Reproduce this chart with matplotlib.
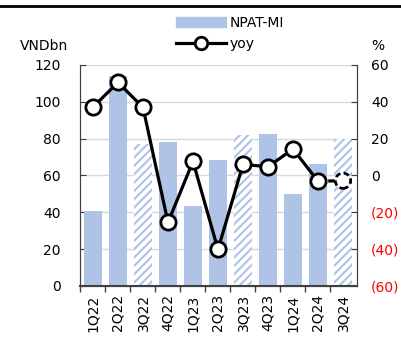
import matplotlib.pyplot as plt
import matplotlib.lines as mlines
import matplotlib.patches as mpatches

plt.rcParams['font.family'] = 'DejaVu Sans'
plt.rcParams['hatch.linewidth'] = 1.5

quarters = ['1Q22', '2Q22', '3Q22', '4Q22', '1Q23', '2Q23', '3Q23', '4Q23', '1Q24', '2Q24', '3Q24']
npat_mi = [40.9, 114.2, 77.1, 78.2, 43.6, 68.3, 81.8, 82.3, 49.9, 66.3, 79.6]
yoy = [37.1, 50.5, 36.9, -25.5, 7.6, -40.2, 6.0, 4.7, 14.3, -3.1, -2.9]
hatched = ['3Q22', '3Q23', '3Q24']

left_ticks = [0, 20, 40, 60, 80, 100, 120]
right_ticks = [-60, -40, -20, 0, 20, 40, 60]

bar_color = '#AEC3E6'
fs = 10

fig = plt.figure(figsize=(4.02, 3.47), dpi=100)
ax = fig.add_axes([0.199, 0.176, 0.689, 0.637])
ax2 = ax.twinx()

x = list(range(len(quarters)))
for i, q in enumerate(quarters):
    if q in hatched:
        ax.bar(i, npat_mi[i], width=0.72, color='white', edgecolor=bar_color,
               hatch='////', linewidth=0, zorder=2)
    else:
        ax.bar(i, npat_mi[i], width=0.72, color=bar_color, linewidth=0, zorder=2)

ax.set_xlim(-0.52, 10.56)
ax.set_ylim(0, 120)
ax.set_yticks(left_ticks)
ax.set_yticklabels([str(t) for t in left_ticks], fontsize=fs)
ax.set_xticks(x)
ax.set_xticklabels(quarters, rotation=90, fontsize=fs)
ax.set_xticks([i + 0.5 for i in x[:-1]] + [-0.5], minor=True)
ax.tick_params(axis='x', which='major', length=0, pad=6)
ax.tick_params(axis='x', which='minor', length=4, width=1, color='#404040', direction='out')
ax.tick_params(axis='y', length=4, direction='in', color='#404040', pad=14)
ax.grid(axis='y', color='#D9D9D9', linewidth=1, zorder=0)
ax.set_axisbelow(True)
ax.spines['top'].set_visible(False)
ax2.spines['top'].set_visible(False)
for side in ['left', 'bottom', 'right']:
    ax.spines[side].set_color('#404040')
    ax2.spines[side].set_color('#404040')
ax.spines['bottom'].set_linewidth(1.5)

# yoy line: solid up to 2Q24, dashed to the estimate
ax2.plot(x[:-1], yoy[:-1], color='black', linewidth=2.3, marker='o', markersize=11,
         markerfacecolor='white', markeredgecolor='black', markeredgewidth=2, zorder=5)
ax2.plot(x[-2:], yoy[-2:], color='black', linewidth=2.3, linestyle=(0, (2, 1.2)), zorder=4)
ax2.scatter(x[-1:], yoy[-1:], s=11 ** 2, facecolor='white', edgecolor='black',
            linewidths=2, linestyle=(0, (2, 1.2)), zorder=6)

ax2.set_ylim(-60, 60)
ax2.set_yticks(right_ticks)
ax2.set_yticklabels([f'({-t})' if t < 0 else str(t) for t in right_ticks], fontsize=fs)
for t, lbl in zip(right_ticks, ax2.get_yticklabels()):
    if t < 0:
        lbl.set_color('red')
ax2.tick_params(axis='y', length=4, direction='in', color='#404040', pad=10)

fig.text(0.05, 0.868, 'VNDbn', fontsize=fs, ha='left', va='center')
fig.text(0.94, 0.868, '%', fontsize=fs, ha='center', va='center')

# thin rule across the top of the panel
fig.add_artist(mlines.Line2D([0, 0.995], [0.983, 0.983], color='black', linewidth=2,
                             transform=fig.transFigure))

handles = [mpatches.Patch(color=bar_color, label='NPAT-MI'),
           mlines.Line2D([], [], color='black', linewidth=2.3, marker='o', markersize=9,
                         markerfacecolor='white', markeredgewidth=2, label='yoy')]
fig.legend(handles=handles, loc='upper left', bbox_to_anchor=(0.437, 0.955), frameon=False,
           fontsize=fs, handlelength=3.6, handletextpad=0.3, labelspacing=0.55,
           borderpad=0, borderaxespad=0)

fig.savefig('out.png', dpi=100)
